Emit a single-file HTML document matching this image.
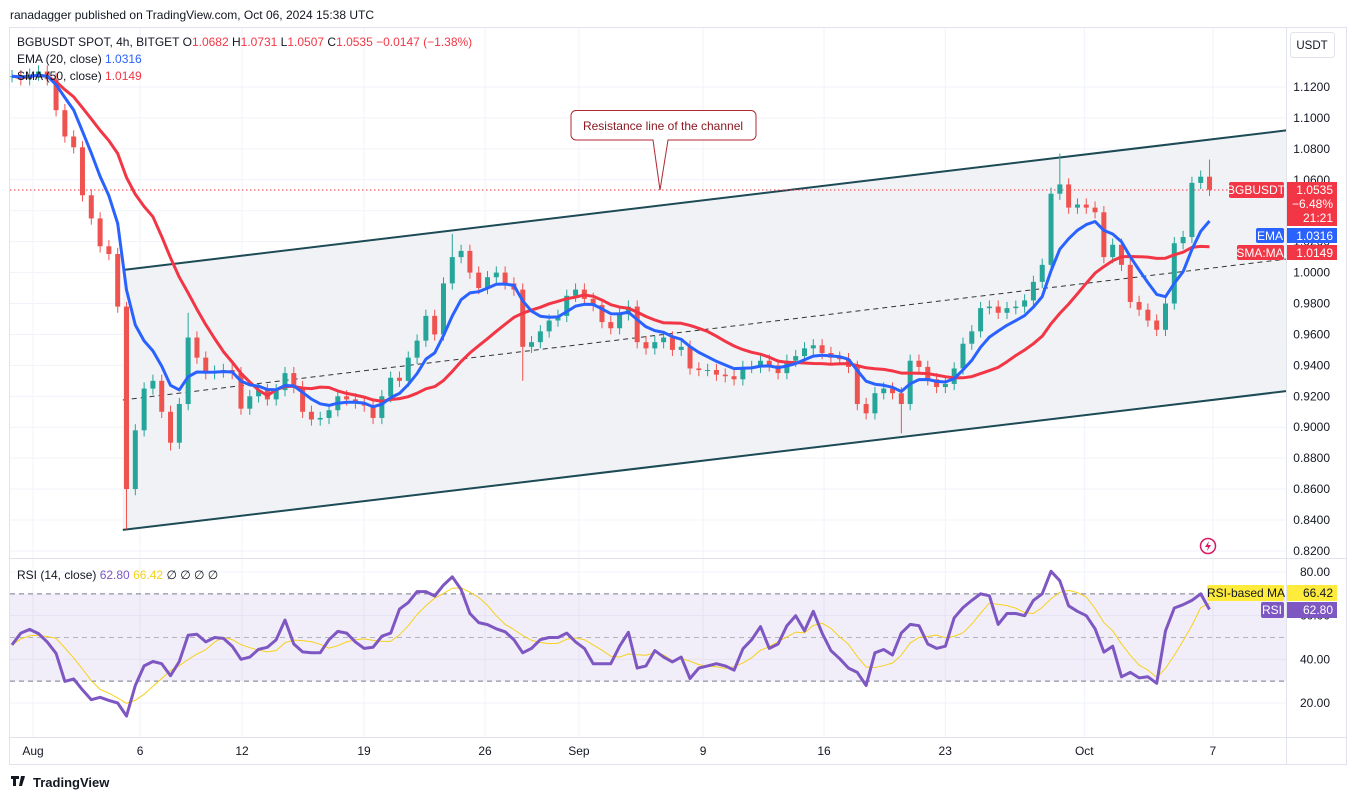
<!DOCTYPE html>
<html><head><meta charset="utf-8"><style>
body{margin:0;background:#fff;width:1358px;height:800px;overflow:hidden;font-family:"Liberation Sans",sans-serif}
svg{display:block}
</style></head><body>
<svg id="chart" width="1358" height="800" viewBox="0 0 1358 800" xmlns="http://www.w3.org/2000/svg" font-family="Liberation Sans, sans-serif">
<defs>
<clipPath id="mainClip"><rect x="10" y="28" width="1276" height="530"/></clipPath>
<clipPath id="rsiClip"><rect x="10" y="559" width="1276" height="178"/></clipPath>
</defs>
<text x="10" y="19" font-size="12" fill="#131722">ranadagger published on TradingView.com, Oct 06, 2024 15:38 UTC</text>
<rect x="9.5" y="27.5" width="1337" height="737" fill="#fff" stroke="#e0e3eb"/>
<g id="grid"></g>
<g id="channel" clip-path="url(#mainClip)"></g>
<line x1="10" y1="190" x2="1286" y2="190" stroke="#f23645" stroke-dasharray="1.5 2.5"/>
<g id="candles" clip-path="url(#mainClip)"></g>
<g id="mas" clip-path="url(#mainClip)"></g>
<g id="rsiPane" clip-path="url(#rsiClip)"></g>
<line x1="10" y1="558.5" x2="1347" y2="558.5" stroke="#e0e3eb"/>
<line x1="10" y1="737.5" x2="1347" y2="737.5" stroke="#e0e3eb"/>
<line x1="1286.5" y1="28" x2="1286.5" y2="765" stroke="#e0e3eb"/>
<g id="axes" font-size="12" fill="#131722"></g>
<rect x="1290.5" y="32.5" width="44" height="25" rx="3" fill="#fff" stroke="#e0e3eb"/>
<text x="1312" y="49" font-size="11.5" text-anchor="middle" fill="#131722">USDT</text>
<g font-size="12">
<text x="17" y="46" fill="#131722">BGBUSDT SPOT, 4h, BITGET  O<tspan fill="#f23645">1.0682</tspan>  H<tspan fill="#f23645">1.0731</tspan>  L<tspan fill="#f23645">1.0507</tspan>  C<tspan fill="#f23645">1.0535</tspan>  <tspan fill="#f23645">−0.0147 (−1.38%)</tspan></text>
<text x="17" y="63" fill="#131722">EMA (20, close)  <tspan fill="#2962ff">1.0316</tspan></text>
<text x="17" y="80" fill="#131722">SMA (50, close)  <tspan fill="#f23645">1.0149</tspan></text>
</g>
<text x="17" y="579" font-size="12" fill="#131722">RSI (14, close)  <tspan fill="#7e57c2">62.80</tspan>  <tspan fill="#f7d11b">66.42</tspan>  ∅  ∅  ∅  ∅</text>
<g>
<path d="M576,110.5 H751 a5,5 0 0 1 5,5 V135 a5,5 0 0 1 -5,5 H668 L660,190 L653,140 H576 a5,5 0 0 1 -5,-5 V115.5 a5,5 0 0 1 5,-5 Z" fill="#fff" stroke="#b22833" stroke-width="1"/>
<text x="663" y="130" font-size="12" text-anchor="middle" fill="#8b1a23">Resistance line of the channel</text>
</g>
<g font-size="12">
<rect x="1229" y="182" width="55" height="16" rx="2" fill="#f23645"/><text x="1256" y="194" fill="#fff" text-anchor="middle">BGBUSDT</text>
<rect x="1287" y="182" width="50" height="44" fill="#f23645"/>
<text x="1333" y="194" fill="#fff" text-anchor="end">1.0535</text>
<text x="1333" y="208" fill="#fff" text-anchor="end">−6.48%</text>
<text x="1333" y="222" fill="#fff" text-anchor="end">21:21</text>
<rect x="1256" y="228" width="28" height="15" rx="2" fill="#2962ff"/><text x="1270" y="240" fill="#fff" text-anchor="middle">EMA</text>
<rect x="1287" y="228" width="50" height="15" fill="#2962ff"/><text x="1333" y="240" fill="#fff" text-anchor="end">1.0316</text>
<rect x="1237" y="245" width="47" height="15" rx="2" fill="#f23645"/><text x="1260" y="257" fill="#fff" text-anchor="middle">SMA:MA</text>
<rect x="1287" y="245" width="50" height="15" fill="#f23645"/><text x="1333" y="257" fill="#fff" text-anchor="end">1.0149</text>
<rect x="1207" y="585" width="77" height="16" rx="2" fill="#ffeb3b"/><text x="1246" y="597" fill="#131722" text-anchor="middle">RSI-based MA</text>
<rect x="1287" y="585" width="50" height="16" fill="#ffeb3b"/><text x="1333" y="597" fill="#131722" text-anchor="end">66.42</text>
<rect x="1261" y="602" width="23" height="16" rx="2" fill="#7e57c2"/><text x="1272" y="614" fill="#fff" text-anchor="middle">RSI</text>
<rect x="1287" y="602" width="50" height="16" fill="#7e57c2"/><text x="1333" y="614" fill="#fff" text-anchor="end">62.80</text>
</g>
<g><circle cx="1208" cy="546" r="7.5" fill="none" stroke="#d81b60" stroke-width="1.5"/><path d="M1209,541 L1205,547 H1208 L1207,551 L1211,545 H1208 Z" fill="#d81b60"/></g>
<g><path d="M11,776 h8 v3 h-3 v7 h-3 v-7 h-2z M21,776 l4,0 l-3,10 h-3z" fill="#131722"/><circle cx="23" cy="778" r="1.5" fill="#131722"/><text x="33" y="787" font-size="13" font-weight="bold" fill="#131722">TradingView</text></g>
</svg>
<script>
// ---- data (12h samples) ----
const closes=[1.127,1.125,1.128,1.130,1.125,1.105,1.088,1.081,1.050,1.035,1.017,1.012,0.978,0.860,0.898,0.925,0.930,0.910,0.890,0.915,0.958,0.945,0.935,0.936,0.937,0.935,0.912,0.920,0.924,0.918,0.924,0.935,0.926,0.910,0.905,0.906,0.911,0.920,0.918,0.916,0.914,0.906,0.920,0.932,0.930,0.945,0.956,0.972,0.960,0.993,1.010,1.014,1.000,0.990,0.997,1.000,0.993,0.989,0.952,0.955,0.962,0.969,0.972,0.985,0.989,0.983,0.979,0.968,0.964,0.973,0.978,0.955,0.951,0.955,0.958,0.950,0.952,0.938,0.937,0.937,0.934,0.933,0.931,0.939,0.939,0.943,0.940,0.935,0.943,0.946,0.951,0.953,0.948,0.945,0.944,0.939,0.915,0.909,0.922,0.925,0.922,0.915,0.943,0.939,0.931,0.926,0.928,0.938,0.954,0.962,0.977,0.978,0.974,0.977,0.978,0.982,0.994,1.005,1.051,1.057,1.042,1.044,1.042,1.039,1.010,1.018,1.005,0.981,0.976,0.969,0.963,0.980,1.019,1.023,1.058,1.062,1.0535];
const highOverrides={13:0.981,20:0.974,50:1.025,119:1.077,136:1.0731};
const lowOverrides={13:0.834,58:0.930,101:0.896,18:0.885,130:0.959};
const rsiValues=[46.6,52,53.7,51.8,47.9,42.7,29.9,31,26,21.5,22.6,21.2,20,14,28,37,39,38,32.5,39,51,51.5,48,50,49.6,46,40,41,44.6,45.5,49,58,47,43.4,43,43,49,52.8,52,48,45,45.5,50.6,52,63,66,71,71,69,74,77.8,72,61,56.8,55.9,54,52.6,49,43,45,49,50,50,52,48,45,38,38,38,46,52.4,36,37,44,41,38.8,41,31.2,36,37,38,37,35,44.8,49,55,45,47,55.4,60,53,62,52,44,40.3,36,34,28,43,44.5,42,52,56,55.4,47,45,46,59,63.7,67,70,69.1,56,61,61,60,67,70,80.3,76,64.5,62,60,54,43.3,46,32,34,31.5,32,29,53,63.5,65,67,70,62.8];
const priceTicks=[1.12,1.10,1.08,1.06,1.04,1.02,1.00,0.98,0.96,0.94,0.92,0.90,0.88,0.86,0.84,0.82];
const rsiTicks=[80,60,40,20];
const timeLabels=["Aug","6","12","19","26","Sep","9","16","23","Oct","7"];
const timeDays=[0,6.08,11.87,18.8,25.67,31.0,38.05,44.92,51.8,59.7,67.0];
const channelDays=[5.1,71.2];
const channelUpper=[1.0017,1.0920];
const channelMid=[0.9176,1.0088];
const channelLower=[0.8336,0.9234];
const firstDay=-1.19, dayStep=0.5;
// ---- scales ----
const X=d=>33+d*17.61;
const Y=p=>87+(1.12-p)*1546.5;
const R=v=>572+(80-v)*2.183;
const NS="http://www.w3.org/2000/svg";
function mk(tag,parent,attrs){const e=document.createElementNS(NS,tag);for(const k in attrs)e.setAttribute(k,attrs[k]);parent.appendChild(e);return e;}
const grid=document.getElementById('grid'),axes=document.getElementById('axes');
priceTicks.forEach(p=>{
  const gl=mk('line',grid,{x1:10,x2:1286,y1:Y(p),y2:Y(p),stroke:'#f0f3fa'});
  
  
  const t=mk('text',axes,{x:1330,y:Y(p)+4,'text-anchor':'end'});t.textContent=p.toFixed(4);
  
  
});
rsiTicks.forEach(v=>{
  const gl=mk('line',grid,{x1:10,x2:1286,y1:R(v),y2:R(v),stroke:'#f0f3fa'});
  
  
  const t=mk('text',axes,{x:1330,y:R(v)+4,'text-anchor':'end'});t.textContent=v.toFixed(2);
  
  
});
timeLabels.forEach((l,i)=>{
  const x=X(timeDays[i]);
  const gl=mk('line',grid,{x1:x,x2:x,y1:28,y2:737,stroke:'#f0f3fa'});
  
  
  const t=mk('text',axes,{x:x,y:755,'text-anchor':'middle'});t.textContent=l;
  
  
});
// channel
const ch=document.getElementById('channel');
const x0=X(channelDays[0]),x1=X(channelDays[1]);
const fill=mk('polygon',ch,{points:`${x0},${Y(channelUpper[0])} ${x1},${Y(channelUpper[1])} ${x1},${Y(channelLower[1])} ${x0},${Y(channelLower[0])}`,fill:'#f0f2f5'});


const up=mk('line',ch,{x1:x0,y1:Y(channelUpper[0]),x2:x1,y2:Y(channelUpper[1]),stroke:'#1c4a55','stroke-width':2});


const lo=mk('line',ch,{x1:x0,y1:Y(channelLower[0]),x2:x1,y2:Y(channelLower[1]),stroke:'#1c4a55','stroke-width':2});


const md=mk('line',ch,{x1:x0,y1:Y(channelMid[0]),x2:x1,y2:Y(channelMid[1]),stroke:'#333','stroke-width':1,'stroke-dasharray':'5 4'});


// candles
const cg=document.getElementById('candles');
closes.forEach((c,i)=>{
  const o=i?closes[i-1]:c;
  const hi=highOverrides[i]!==undefined?highOverrides[i]:Math.max(o,c)+0.004;
  const lw=lowOverrides[i]!==undefined?lowOverrides[i]:Math.min(o,c)-0.004;
  const x=X(firstDay+i*dayStep), col=c>=o?'#26a69a':'#ef5350';
  const w=mk('line',cg,{x1:x,x2:x,y1:Y(hi),y2:Y(lw),stroke:col,'stroke-width':1});
  
  
  const top=Y(Math.max(o,c)),h=Math.max(1,Math.abs(Y(o)-Y(c)));
  const b=mk('rect',cg,{x:x-2.5,y:top,width:5,height:h,fill:col});
  
  
});
// moving averages
const mg=document.getElementById('mas');
let ema=[],k=2/(7+1);closes.forEach((c,i)=>ema.push(i?c*k+ema[i-1]*(1-k):c));
let sma=closes.map((c,i)=>{const s=closes.slice(Math.max(0,i-16),i+1);return s.reduce((a,b)=>a+b,0)/s.length;});
function path(arr,fy){return arr.map((v,i)=>(i?'L':'M')+X(firstDay+i*dayStep).toFixed(1)+','+fy(v).toFixed(1)).join('');}
const sl=mk('path',mg,{d:path(sma,Y),fill:'none',stroke:'#f23645','stroke-width':3,'stroke-linejoin':'round'});


const el=mk('path',mg,{d:path(ema,Y),fill:'none',stroke:'#2962ff','stroke-width':3,'stroke-linejoin':'round'});


// RSI
const rg=document.getElementById('rsiPane');
const band=mk('rect',rg,{x:10,y:R(70),width:1276,height:R(30)-R(70),fill:'#7e57c2','fill-opacity':0.1});


[70,50,30].forEach(v=>{const l=mk('line',rg,{x1:10,x2:1286,y1:R(v),y2:R(v),stroke:v==50?'#b2b5be':'#787b86','stroke-dasharray':'5 4'});
  
  });
const rma=rsiValues.map((v,i)=>{const s=rsiValues.slice(Math.max(0,i-4),i+1);return s.reduce((a,b)=>a+b,0)/s.length;});
const ml=mk('path',rg,{d:path(rma,R),fill:'none',stroke:'#f7d11b','stroke-width':1});


const rl=mk('path',rg,{d:path(rsiValues,R),fill:'none',stroke:'#7e57c2','stroke-width':3,'stroke-linejoin':'round'});


</script>
</body></html>
